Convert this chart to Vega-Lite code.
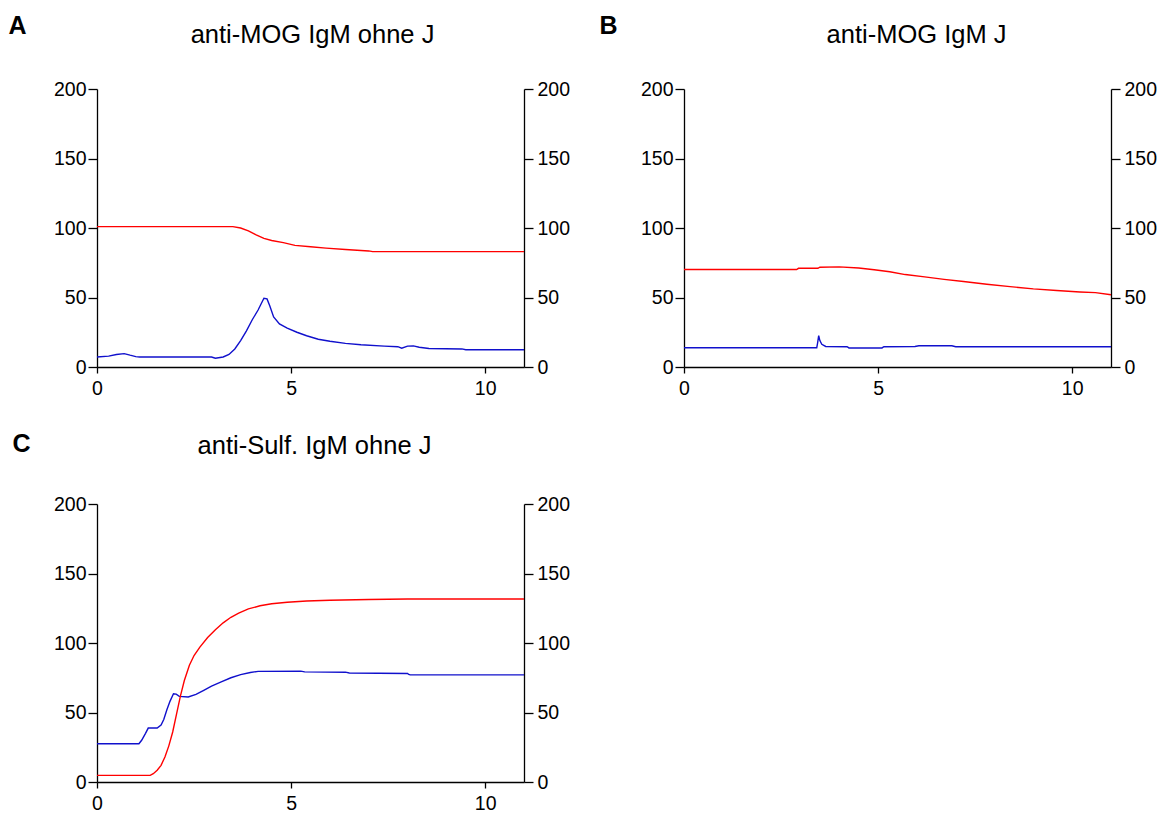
{
  "$schema": "https://vega.github.io/schema/vega-lite/v6.json",
  "background": "white",
  "padding": {"left": 8, "top": 13, "right": 5, "bottom": 5},
  "config": {
    "view": {"stroke": null},
    "font": "Liberation Sans",
    "axis": {"domainColor": "black", "domainWidth": 1.3, "tickColor": "black", "tickWidth": 1.3, "labelColor": "black", "labelFontSize": 19.5, "labelFont": "Liberation Sans", "grid": false, "labelFlush": false, "titleFont": "Liberation Sans", "titleColor": "black"},
    "axisLeft": {"tickSize": 9, "labelPadding": 2},
    "axisRight": {"tickSize": 9, "labelPadding": 4},
    "axisX": {"tickSize": 6, "labelPadding": 6}
  },
  "datasets": {
    "A": [
      {"s": "red", "x": 0, "y": 101}, {"s": "red", "x": 3.5, "y": 101}, {"s": "red", "x": 3.7, "y": 100}, {"s": "red", "x": 3.9, "y": 98}, {"s": "red", "x": 4.1, "y": 95}, {"s": "red", "x": 4.3, "y": 92.5}, {"s": "red", "x": 4.5, "y": 91}, {"s": "red", "x": 4.8, "y": 89.5}, {"s": "red", "x": 5.1, "y": 87.5}, {"s": "red", "x": 5.5, "y": 86.5}, {"s": "red", "x": 5.9, "y": 85.5}, {"s": "red", "x": 6.4, "y": 84.5}, {"s": "red", "x": 7.0, "y": 83.5}, {"s": "red", "x": 7.1, "y": 83}, {"s": "red", "x": 11, "y": 83},
      {"s": "blue", "x": 0, "y": 7.2}, {"s": "blue", "x": 0.3, "y": 7.8}, {"s": "blue", "x": 0.5, "y": 9}, {"s": "blue", "x": 0.7, "y": 9.6}, {"s": "blue", "x": 0.85, "y": 8.5}, {"s": "blue", "x": 1.0, "y": 7.5}, {"s": "blue", "x": 1.1, "y": 7.2}, {"s": "blue", "x": 2.95, "y": 7.2}, {"s": "blue", "x": 3.05, "y": 6.3}, {"s": "blue", "x": 3.25, "y": 7.2}, {"s": "blue", "x": 3.4, "y": 9}, {"s": "blue", "x": 3.55, "y": 13}, {"s": "blue", "x": 3.7, "y": 19}, {"s": "blue", "x": 3.85, "y": 26}, {"s": "blue", "x": 4.0, "y": 34}, {"s": "blue", "x": 4.15, "y": 41}, {"s": "blue", "x": 4.3, "y": 49.5}, {"s": "blue", "x": 4.38, "y": 49}, {"s": "blue", "x": 4.45, "y": 44}, {"s": "blue", "x": 4.55, "y": 36}, {"s": "blue", "x": 4.7, "y": 31}, {"s": "blue", "x": 4.9, "y": 28}, {"s": "blue", "x": 5.15, "y": 25}, {"s": "blue", "x": 5.4, "y": 22.5}, {"s": "blue", "x": 5.7, "y": 20}, {"s": "blue", "x": 6.0, "y": 18.5}, {"s": "blue", "x": 6.4, "y": 17}, {"s": "blue", "x": 6.8, "y": 16}, {"s": "blue", "x": 7.4, "y": 15}, {"s": "blue", "x": 7.75, "y": 14.6}, {"s": "blue", "x": 7.85, "y": 13.5}, {"s": "blue", "x": 8.0, "y": 15}, {"s": "blue", "x": 8.15, "y": 15.2}, {"s": "blue", "x": 8.3, "y": 14.2}, {"s": "blue", "x": 8.55, "y": 13.3}, {"s": "blue", "x": 9.4, "y": 13}, {"s": "blue", "x": 9.5, "y": 12.4}, {"s": "blue", "x": 11, "y": 12.4}
    ],
    "B": [
      {"s": "red", "x": 0, "y": 70.1}, {"s": "red", "x": 2.9, "y": 70.1}, {"s": "red", "x": 2.95, "y": 71}, {"s": "red", "x": 3.45, "y": 71}, {"s": "red", "x": 3.5, "y": 71.8}, {"s": "red", "x": 4.0, "y": 72}, {"s": "red", "x": 4.5, "y": 71.2}, {"s": "red", "x": 4.9, "y": 70}, {"s": "red", "x": 5.3, "y": 68.5}, {"s": "red", "x": 5.7, "y": 66.5}, {"s": "red", "x": 6.2, "y": 64.8}, {"s": "red", "x": 6.7, "y": 63}, {"s": "red", "x": 7.2, "y": 61.5}, {"s": "red", "x": 7.8, "y": 59.5}, {"s": "red", "x": 8.4, "y": 57.8}, {"s": "red", "x": 9.0, "y": 56.2}, {"s": "red", "x": 9.6, "y": 55}, {"s": "red", "x": 10.2, "y": 54}, {"s": "red", "x": 10.6, "y": 53.5}, {"s": "red", "x": 11, "y": 52},
      {"s": "blue", "x": 0, "y": 13.9}, {"s": "blue", "x": 3.42, "y": 13.9}, {"s": "blue", "x": 3.44, "y": 17}, {"s": "blue", "x": 3.47, "y": 22.5}, {"s": "blue", "x": 3.5, "y": 19}, {"s": "blue", "x": 3.55, "y": 16.3}, {"s": "blue", "x": 3.65, "y": 14.8}, {"s": "blue", "x": 4.2, "y": 14.6}, {"s": "blue", "x": 4.25, "y": 13.7}, {"s": "blue", "x": 5.1, "y": 13.7}, {"s": "blue", "x": 5.15, "y": 14.6}, {"s": "blue", "x": 5.95, "y": 14.8}, {"s": "blue", "x": 6.05, "y": 15.3}, {"s": "blue", "x": 6.9, "y": 15.3}, {"s": "blue", "x": 7.0, "y": 14.6}, {"s": "blue", "x": 11, "y": 14.6}
    ],
    "C": [
      {"s": "red", "x": 0, "y": 4.8}, {"s": "red", "x": 1.37, "y": 4.8}, {"s": "red", "x": 1.45, "y": 6}, {"s": "red", "x": 1.55, "y": 8.5}, {"s": "red", "x": 1.65, "y": 12}, {"s": "red", "x": 1.75, "y": 18}, {"s": "red", "x": 1.85, "y": 26}, {"s": "red", "x": 1.95, "y": 36}, {"s": "red", "x": 2.05, "y": 49}, {"s": "red", "x": 2.15, "y": 62}, {"s": "red", "x": 2.25, "y": 73}, {"s": "red", "x": 2.38, "y": 84}, {"s": "red", "x": 2.5, "y": 91}, {"s": "red", "x": 2.65, "y": 97}, {"s": "red", "x": 2.85, "y": 104}, {"s": "red", "x": 3.05, "y": 109.5}, {"s": "red", "x": 3.25, "y": 114.5}, {"s": "red", "x": 3.45, "y": 118.5}, {"s": "red", "x": 3.65, "y": 121.5}, {"s": "red", "x": 3.9, "y": 124.5}, {"s": "red", "x": 4.2, "y": 126.8}, {"s": "red", "x": 4.5, "y": 128.2}, {"s": "red", "x": 4.9, "y": 129.3}, {"s": "red", "x": 5.4, "y": 130.2}, {"s": "red", "x": 6.0, "y": 130.8}, {"s": "red", "x": 7.0, "y": 131.3}, {"s": "red", "x": 8.0, "y": 131.7}, {"s": "red", "x": 11, "y": 131.7},
      {"s": "blue", "x": 0, "y": 27.5}, {"s": "blue", "x": 1.08, "y": 27.5}, {"s": "blue", "x": 1.15, "y": 30}, {"s": "blue", "x": 1.25, "y": 35}, {"s": "blue", "x": 1.32, "y": 38.8}, {"s": "blue", "x": 1.55, "y": 38.8}, {"s": "blue", "x": 1.65, "y": 41}, {"s": "blue", "x": 1.72, "y": 45}, {"s": "blue", "x": 1.8, "y": 52}, {"s": "blue", "x": 1.88, "y": 58}, {"s": "blue", "x": 1.97, "y": 63.5}, {"s": "blue", "x": 2.04, "y": 63.2}, {"s": "blue", "x": 2.12, "y": 61.6}, {"s": "blue", "x": 2.35, "y": 61.2}, {"s": "blue", "x": 2.55, "y": 63}, {"s": "blue", "x": 2.75, "y": 66}, {"s": "blue", "x": 2.95, "y": 69}, {"s": "blue", "x": 3.2, "y": 72}, {"s": "blue", "x": 3.45, "y": 75}, {"s": "blue", "x": 3.7, "y": 77.2}, {"s": "blue", "x": 3.95, "y": 78.8}, {"s": "blue", "x": 4.15, "y": 79.6}, {"s": "blue", "x": 5.25, "y": 79.8}, {"s": "blue", "x": 5.35, "y": 79.2}, {"s": "blue", "x": 6.4, "y": 79}, {"s": "blue", "x": 6.5, "y": 78.4}, {"s": "blue", "x": 8.0, "y": 78.1}, {"s": "blue", "x": 8.03, "y": 77.4}, {"s": "blue", "x": 8.07, "y": 77.1}, {"s": "blue", "x": 11, "y": 77.1}
    ]
  },
  "spacing": 33,
  "vconcat": [
    {
      "spacing": 29,
      "hconcat": [
        {
          "width": 427, "height": 278,
          "data": {"name": "A"},
          "layer": [
            {"transform": [{"filter": "datum.s === 'blue'"}], "mark": {"type": "line", "color": "#1010cc", "strokeWidth": 1.4},
             "encoding": {
               "x": {"field": "x", "type": "quantitative", "scale": {"domain": [0, 11], "nice": false}, "axis": {"values": [0, 5, 10], "title": null}},
               "y": {"field": "y", "type": "quantitative", "scale": {"domain": [0, 200], "nice": false}, "axis": {"orient": "left", "values": [0, 50, 100, 150, 200], "title": "A", "titleAngle": 0, "titleX": -89, "titleY": -56, "titleAlign": "left", "titleBaseline": "alphabetic", "titleFontSize": 25, "titleFontWeight": "bold"}}}},
            {"transform": [{"filter": "datum.s === 'red'"}], "mark": {"type": "line", "color": "#ff0000", "strokeWidth": 1.4},
             "encoding": {
               "x": {"field": "x", "type": "quantitative", "scale": {"domain": [0, 11], "nice": false}, "axis": {"orient": "top", "domain": false, "ticks": false, "labels": false, "title": "anti-MOG IgM ohne J", "titleFontSize": 25.5, "titleFontWeight": "normal", "titleAngle": 0, "titleBaseline": "alphabetic", "titleY": -47, "titleX": 215, "titleAlign": "center"}},
               "y": {"field": "y", "type": "quantitative", "scale": {"domain": [0, 200], "nice": false}, "axis": {"orient": "right", "values": [0, 50, 100, 150, 200], "title": null}}}}
          ],
          "resolve": {"scale": {"y": "independent", "x": "independent"}}
        },
        {
          "width": 427, "height": 278,
          "data": {"name": "B"},
          "layer": [
            {"transform": [{"filter": "datum.s === 'blue'"}], "mark": {"type": "line", "color": "#1010cc", "strokeWidth": 1.4},
             "encoding": {
               "x": {"field": "x", "type": "quantitative", "scale": {"domain": [0, 11], "nice": false}, "axis": {"values": [0, 5, 10], "title": null}},
               "y": {"field": "y", "type": "quantitative", "scale": {"domain": [0, 200], "nice": false}, "axis": {"orient": "left", "values": [0, 50, 100, 150, 200], "title": "B", "titleAngle": 0, "titleX": -85, "titleY": -56, "titleAlign": "left", "titleBaseline": "alphabetic", "titleFontSize": 25, "titleFontWeight": "bold"}}}},
            {"transform": [{"filter": "datum.s === 'red'"}], "mark": {"type": "line", "color": "#ff0000", "strokeWidth": 1.4},
             "encoding": {
               "x": {"field": "x", "type": "quantitative", "scale": {"domain": [0, 11], "nice": false}, "axis": {"orient": "top", "domain": false, "ticks": false, "labels": false, "title": "anti-MOG IgM J", "titleFontSize": 25.5, "titleFontWeight": "normal", "titleAngle": 0, "titleBaseline": "alphabetic", "titleY": -47, "titleX": 232, "titleAlign": "center"}},
               "y": {"field": "y", "type": "quantitative", "scale": {"domain": [0, 200], "nice": false}, "axis": {"orient": "right", "values": [0, 50, 100, 150, 200], "title": null}}}}
          ],
          "resolve": {"scale": {"y": "independent", "x": "independent"}}
        }
      ]
    },
    {
      "width": 427, "height": 278,
      "data": {"name": "C"},
      "layer": [
        {"transform": [{"filter": "datum.s === 'blue'"}], "mark": {"type": "line", "color": "#1010cc", "strokeWidth": 1.4},
         "encoding": {
           "x": {"field": "x", "type": "quantitative", "scale": {"domain": [0, 11], "nice": false}, "axis": {"values": [0, 5, 10], "title": null}},
           "y": {"field": "y", "type": "quantitative", "scale": {"domain": [0, 200], "nice": false}, "axis": {"orient": "left", "values": [0, 50, 100, 150, 200], "title": "C", "titleAngle": 0, "titleX": -85, "titleY": -53, "titleAlign": "left", "titleBaseline": "alphabetic", "titleFontSize": 25, "titleFontWeight": "bold"}}}},
        {"transform": [{"filter": "datum.s === 'red'"}], "mark": {"type": "line", "color": "#ff0000", "strokeWidth": 1.4},
         "encoding": {
           "x": {"field": "x", "type": "quantitative", "scale": {"domain": [0, 11], "nice": false}, "axis": {"orient": "top", "domain": false, "ticks": false, "labels": false, "title": "anti-Sulf. IgM ohne J", "titleFontSize": 25.5, "titleFontWeight": "normal", "titleAngle": 0, "titleBaseline": "alphabetic", "titleY": -51, "titleX": 217, "titleAlign": "center"}},
           "y": {"field": "y", "type": "quantitative", "scale": {"domain": [0, 200], "nice": false}, "axis": {"orient": "right", "values": [0, 50, 100, 150, 200], "title": null}}}}
      ],
      "resolve": {"scale": {"y": "independent", "x": "independent"}}
    }
  ]
}
